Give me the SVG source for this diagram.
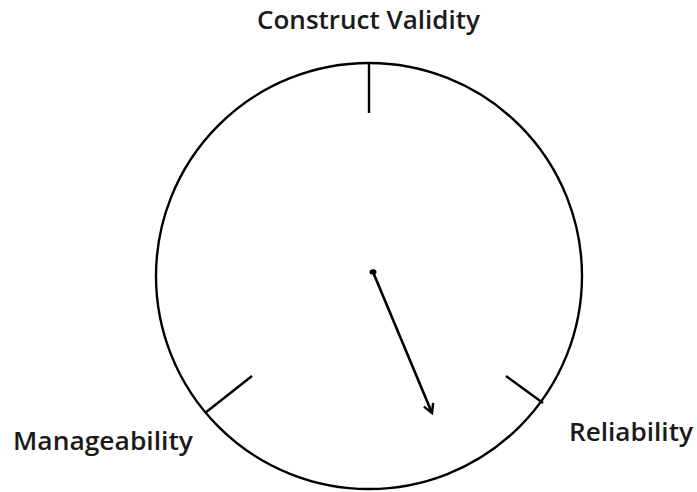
<svg xmlns="http://www.w3.org/2000/svg" width="697" height="492" viewBox="0 0 697 492">
<style>
.l{fill:none;stroke:#000;stroke-width:2.4}
.t{font-family:"Open Sans","Liberation Sans",sans-serif;font-size:25px;font-weight:600;fill:#1a1a1a}
</style>
<defs>
<marker id="ah" viewBox="0 0 12 12" refX="10" refY="6" markerWidth="12" markerHeight="12" markerUnits="userSpaceOnUse" orient="auto">
<path d="M1,1 L10,6 L1,11" fill="none" stroke="#000" stroke-width="2.4"/>
</marker>
</defs>
<rect width="697" height="492" fill="#fff"/>
<g id="dial">
<circle class="l" cx="369" cy="276" r="213"/>
</g>
<g id="construct-validity">
<line class="l" x1="369" y1="63" x2="369" y2="113"/>
<text class="t" x="257" y="29" textLength="223" lengthAdjust="spacingAndGlyphs">Construct Validity</text>
</g>
<g id="manageability">
<line class="l" x1="205" y1="413" x2="252" y2="376"/>
<text class="t" x="13" y="450" textLength="180" lengthAdjust="spacingAndGlyphs">Manageability</text>
</g>
<g id="reliability">
<line class="l" x1="506" y1="376" x2="543" y2="403"/>
<text class="t" x="569" y="441" textLength="124" lengthAdjust="spacingAndGlyphs">Reliability</text>
</g>
<g id="connectors">
<ellipse cx="373" cy="272" rx="3.5" ry="2.8" fill="#000"/>
<line x1="373" y1="272" x2="432" y2="413" stroke="#000" stroke-width="2.6" marker-end="url(#ah)"/>
</g>
</svg>
